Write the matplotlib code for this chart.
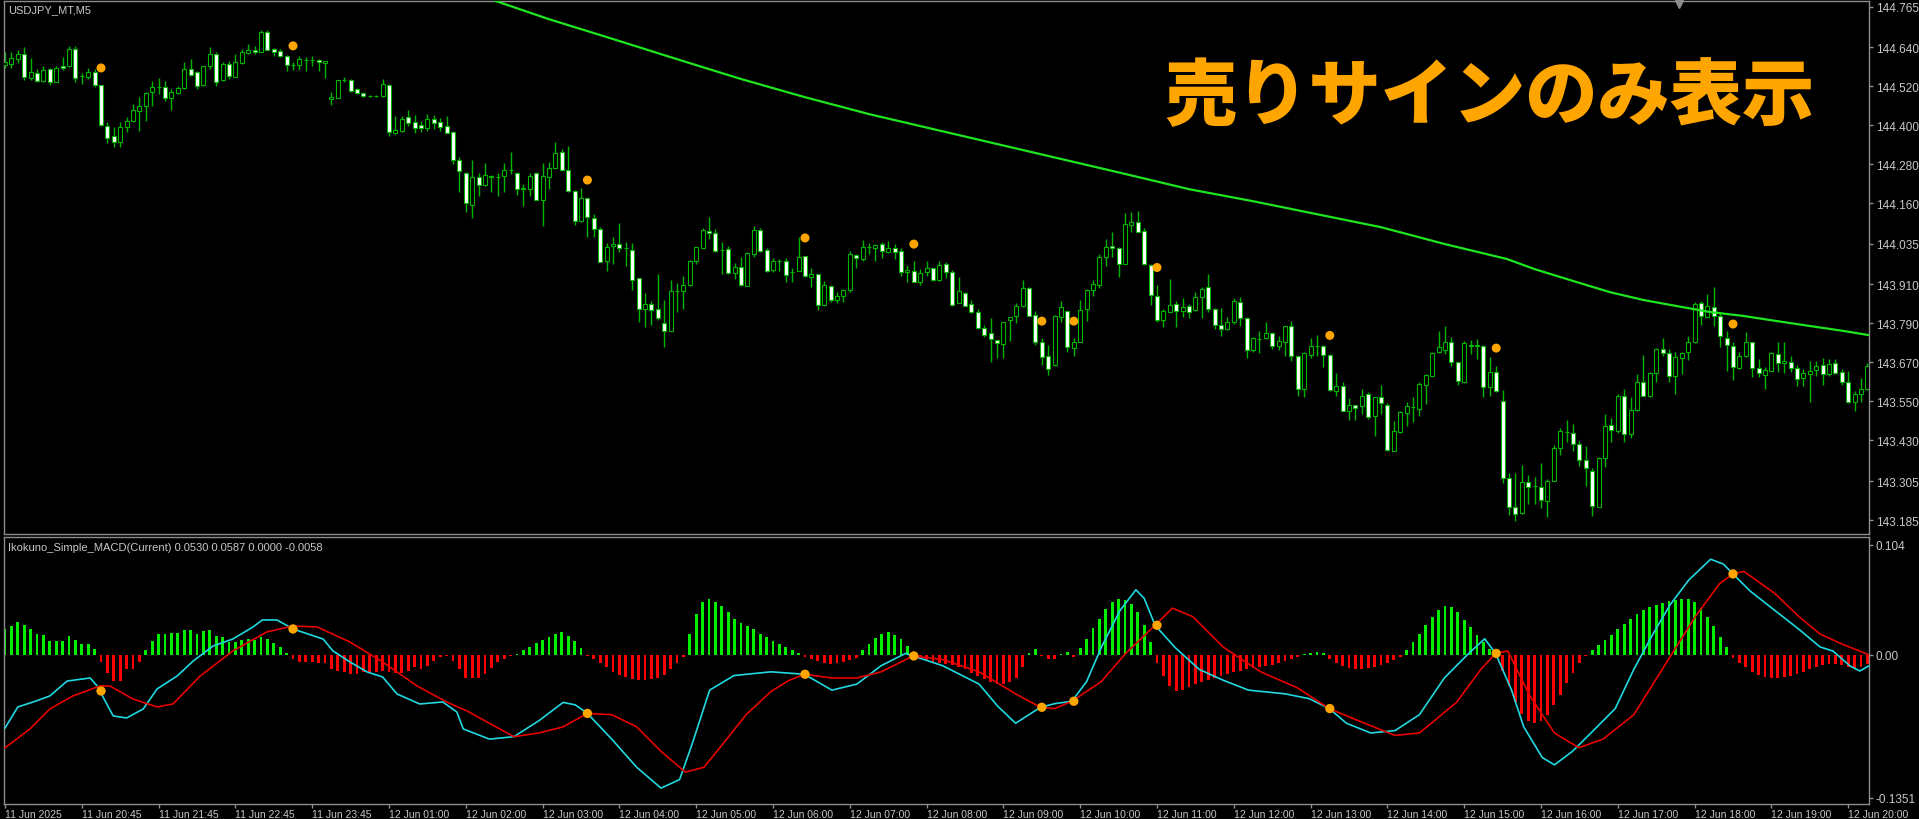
import matplotlib
matplotlib.use('Agg')
import matplotlib.pyplot as plt
import numpy as np

# ---------------- DATA ----------------
opens = [
144.585, 144.588, 144.603, 144.619, 144.545, 144.560, 144.536, 144.573, 144.533, 144.582,
144.582, 144.634, 144.551, 144.548, 144.563, 144.523, 144.397, 144.366, 144.348, 144.394,
144.413, 144.443, 144.459, 144.502, 144.517, 144.517, 144.483, 144.499, 144.514, 144.573,
144.563, 144.523, 144.582, 144.619, 144.539, 144.588, 144.548, 144.591, 144.622, 144.631,
144.625, 144.686, 144.634, 144.628, 144.613, 144.585, 144.585, 144.600, 144.599, 144.600,
144.591, 144.480, 144.483, 144.539, 144.539, 144.511, 144.499, 144.490, 144.489, 144.490,
144.523, 144.376, 144.382, 144.425, 144.410, 144.400, 144.391, 144.419, 144.410, 144.397,
144.379, 144.293, 144.253, 144.154, 144.240, 144.216, 144.243, 144.240, 144.243, 144.262,
144.253, 144.206, 144.203, 144.253, 144.170, 144.240, 144.268, 144.317, 144.262, 144.197,
144.105, 144.176, 144.114, 144.080, 143.982, 144.028, 144.034, 144.022, 144.016, 143.930,
143.834, 143.850, 143.834, 143.791, 143.766, 143.889, 143.889, 143.908, 143.982, 144.022,
144.074, 144.068, 144.016, 144.019, 143.945, 143.963, 143.905, 144.003, 144.077, 144.016,
143.954, 143.982, 143.982, 143.948, 143.951, 143.997, 143.933, 143.942, 143.846, 143.905,
143.862, 143.874, 143.893, 144.000, 143.988, 144.025, 144.022, 144.034, 144.010, 144.022,
144.013, 143.948, 143.951, 143.917, 143.948, 143.960, 143.923, 143.973, 143.948, 143.853,
143.883, 143.850, 143.825, 143.776, 143.760, 143.739, 143.726, 143.800, 143.813, 143.843,
143.899, 143.816, 143.733, 143.690, 143.662, 143.810, 143.828, 143.714, 143.733, 143.834,
143.893, 143.908, 143.994, 144.028, 144.022, 143.973, 144.093, 144.102, 144.074, 143.970,
143.874, 143.800, 143.825, 143.850, 143.828, 143.843, 143.831, 143.871, 143.902, 143.834,
143.785, 143.773, 143.794, 143.856, 143.806, 143.708, 143.742, 143.745, 143.760, 143.720,
143.733, 143.782, 143.690, 143.588, 143.693, 143.720, 143.720, 143.693, 143.582, 143.597,
143.520, 143.539, 143.536, 143.573, 143.505, 143.563, 143.539, 143.397, 143.456, 143.514,
143.533, 143.526, 143.600, 143.628, 143.702, 143.708, 143.733, 143.671, 143.610, 143.723,
143.722, 143.720, 143.594, 143.640, 143.551, 143.314, 143.225, 143.206, 143.302, 143.290,
143.286, 143.243, 143.305, 143.406, 143.456, 143.453, 143.419, 143.370, 143.336, 143.225,
143.376, 143.477, 143.459, 143.566, 143.450, 143.523, 143.610, 143.566, 143.637, 143.711,
143.699, 143.628, 143.683, 143.702, 143.733, 143.853, 143.810, 143.840, 143.813, 143.745,
143.720, 143.653, 143.690, 143.733, 143.653, 143.631, 143.643, 143.696, 143.668, 143.671,
143.653, 143.622, 143.634, 143.646, 143.662, 143.634, 143.668, 143.640, 143.610, 143.548,
143.573, 143.588,
]
highs = [
144.625, 144.625, 144.631, 144.640, 144.606, 144.573, 144.582, 144.576, 144.582, 144.610,
144.643, 144.643, 144.560, 144.576, 144.573, 144.523, 144.410, 144.394, 144.410, 144.425,
144.465, 144.486, 144.502, 144.536, 144.545, 144.536, 144.511, 144.520, 144.594, 144.603,
144.566, 144.582, 144.640, 144.625, 144.594, 144.597, 144.619, 144.634, 144.650, 144.643,
144.693, 144.693, 144.637, 144.634, 144.616, 144.594, 144.613, 144.610, 144.613, 144.603,
144.597, 144.502, 144.539, 144.548, 144.542, 144.514, 144.502, 144.493, 144.492, 144.542,
144.526, 144.428, 144.428, 144.446, 144.431, 144.413, 144.434, 144.431, 144.422, 144.428,
144.382, 144.302, 144.256, 144.293, 144.253, 144.283, 144.246, 144.253, 144.283, 144.317,
144.256, 144.219, 144.253, 144.256, 144.283, 144.286, 144.348, 144.326, 144.336, 144.200,
144.206, 144.176, 144.126, 144.086, 144.037, 144.056, 144.099, 144.040, 144.037, 143.930,
143.883, 143.859, 143.942, 143.862, 143.923, 143.914, 143.936, 143.985, 144.025, 144.083,
144.117, 144.080, 144.040, 144.028, 143.976, 143.994, 144.010, 144.090, 144.083, 144.022,
143.991, 143.988, 143.991, 143.960, 144.056, 143.997, 143.960, 143.942, 143.920, 143.908,
143.886, 143.896, 144.013, 144.003, 144.046, 144.037, 144.034, 144.040, 144.043, 144.034,
144.022, 143.970, 143.982, 143.957, 143.982, 143.960, 143.982, 143.979, 143.954, 143.933,
143.886, 143.862, 143.834, 143.785, 143.806, 143.739, 143.794, 143.810, 143.853, 143.923,
143.902, 143.828, 143.745, 143.723, 143.816, 143.859, 143.828, 143.745, 143.862, 143.896,
143.923, 144.003, 144.050, 144.071, 144.025, 144.130, 144.133, 144.136, 144.083, 143.973,
143.908, 143.834, 143.926, 143.859, 143.868, 143.850, 143.886, 143.902, 143.942, 143.837,
143.837, 143.810, 143.868, 143.871, 143.810, 143.748, 143.766, 143.794, 143.763, 143.751,
143.782, 143.797, 143.693, 143.702, 143.745, 143.754, 143.723, 143.696, 143.637, 143.610,
143.560, 143.539, 143.588, 143.579, 143.563, 143.600, 143.545, 143.489, 143.520, 143.548,
143.563, 143.610, 143.634, 143.702, 143.766, 143.782, 143.748, 143.671, 143.736, 143.739,
143.742, 143.723, 143.686, 143.659, 143.585, 143.330, 143.330, 143.354, 143.323, 143.317,
143.360, 143.311, 143.416, 143.468, 143.493, 143.480, 143.428, 143.413, 143.345, 143.379,
143.511, 143.499, 143.573, 143.588, 143.563, 143.634, 143.693, 143.640, 143.714, 143.745,
143.711, 143.702, 143.702, 143.751, 143.856, 143.859, 143.880, 143.902, 143.825, 143.766,
143.733, 143.702, 143.763, 143.733, 143.680, 143.656, 143.702, 143.733, 143.733, 143.690,
143.662, 143.650, 143.674, 143.674, 143.683, 143.680, 143.680, 143.650, 143.643, 143.582,
143.622, 143.668,
]
lows = [
144.576, 144.576, 144.591, 144.539, 144.539, 144.533, 144.533, 144.523, 144.533, 144.570,
144.579, 144.533, 144.526, 144.542, 144.517, 144.397, 144.345, 144.333, 144.333, 144.379,
144.410, 144.382, 144.413, 144.459, 144.496, 144.474, 144.446, 144.496, 144.511, 144.551,
144.511, 144.520, 144.573, 144.520, 144.536, 144.542, 144.548, 144.588, 144.619, 144.619,
144.625, 144.631, 144.613, 144.610, 144.566, 144.570, 144.570, 144.566, 144.582, 144.566,
144.545, 144.462, 144.483, 144.533, 144.502, 144.496, 144.486, 144.487, 144.487, 144.486,
144.366, 144.373, 144.379, 144.397, 144.376, 144.379, 144.382, 144.388, 144.382, 144.376,
144.280, 144.194, 144.133, 144.114, 144.182, 144.213, 144.194, 144.182, 144.194, 144.250,
144.185, 144.151, 144.182, 144.170, 144.090, 144.203, 144.268, 144.259, 144.194, 144.093,
144.102, 144.056, 144.056, 143.979, 143.951, 143.973, 144.010, 143.966, 143.893, 143.794,
143.779, 143.785, 143.800, 143.717, 143.766, 143.825, 143.834, 143.905, 143.973, 144.022,
144.050, 144.010, 143.942, 143.942, 143.926, 143.905, 143.905, 143.994, 144.010, 143.948,
143.948, 143.951, 143.917, 143.917, 143.951, 143.933, 143.902, 143.831, 143.843, 143.856,
143.853, 143.856, 143.886, 143.960, 143.982, 144.003, 143.982, 143.991, 144.006, 143.988,
143.936, 143.917, 143.917, 143.908, 143.936, 143.920, 143.920, 143.930, 143.843, 143.853,
143.843, 143.822, 143.773, 143.748, 143.671, 143.683, 143.683, 143.736, 143.791, 143.840,
143.813, 143.723, 143.662, 143.631, 143.659, 143.794, 143.702, 143.690, 143.733, 143.797,
143.874, 143.899, 143.966, 143.994, 143.933, 143.973, 144.071, 144.071, 143.970, 143.846,
143.794, 143.779, 143.825, 143.779, 143.810, 143.806, 143.828, 143.806, 143.825, 143.773,
143.751, 143.770, 143.788, 143.782, 143.683, 143.702, 143.699, 143.742, 143.711, 143.708,
143.690, 143.674, 143.566, 143.563, 143.683, 143.690, 143.656, 143.582, 143.566, 143.520,
143.493, 143.493, 143.511, 143.496, 143.443, 143.511, 143.397, 143.397, 143.453, 143.474,
143.486, 143.505, 143.542, 143.628, 143.699, 143.696, 143.659, 143.600, 143.606, 143.696,
143.680, 143.563, 143.566, 143.579, 143.299, 143.200, 143.182, 143.203, 143.234, 143.234,
143.222, 143.194, 143.305, 143.385, 143.425, 143.397, 143.351, 143.289, 143.197, 143.225,
143.348, 143.425, 143.453, 143.425, 143.437, 143.520, 143.566, 143.563, 143.610, 143.690,
143.610, 143.573, 143.634, 143.677, 143.730, 143.785, 143.806, 143.782, 143.717, 143.643,
143.616, 143.650, 143.686, 143.625, 143.625, 143.588, 143.643, 143.640, 143.637, 143.640,
143.597, 143.597, 143.548, 143.628, 143.600, 143.628, 143.634, 143.600, 143.545, 143.520,
143.548, 143.585,
]
closes = [
144.594, 144.606, 144.619, 144.548, 144.563, 144.536, 144.570, 144.533, 144.576, 144.576,
144.634, 144.545, 144.550, 144.563, 144.523, 144.400, 144.360, 144.348, 144.394, 144.413,
144.446, 144.459, 144.499, 144.517, 144.518, 144.483, 144.502, 144.514, 144.573, 144.554,
144.520, 144.582, 144.619, 144.533, 144.588, 144.551, 144.594, 144.625, 144.631, 144.625,
144.686, 144.631, 144.625, 144.613, 144.585, 144.584, 144.603, 144.599, 144.600, 144.594,
144.597, 144.486, 144.539, 144.538, 144.505, 144.499, 144.490, 144.489, 144.490, 144.526,
144.379, 144.385, 144.419, 144.406, 144.391, 144.391, 144.419, 144.406, 144.394, 144.376,
144.293, 144.259, 144.160, 144.240, 144.216, 144.246, 144.242, 144.239, 144.262, 144.261,
144.203, 144.205, 144.243, 144.170, 144.243, 144.268, 144.314, 144.262, 144.197, 144.105,
144.176, 144.117, 144.080, 143.979, 144.025, 144.034, 144.022, 144.021, 143.923, 143.834,
143.850, 143.831, 143.806, 143.766, 143.889, 143.890, 143.908, 143.982, 144.025, 144.077,
144.068, 144.013, 144.015, 143.945, 143.963, 143.908, 144.006, 144.077, 144.013, 143.951,
143.982, 143.981, 143.939, 143.947, 143.994, 143.936, 143.942, 143.846, 143.908, 143.862,
143.874, 143.893, 144.003, 143.991, 144.025, 144.024, 144.031, 144.013, 144.022, 144.010,
143.948, 143.954, 143.917, 143.945, 143.960, 143.923, 143.970, 143.948, 143.846, 143.889,
143.843, 143.825, 143.776, 143.754, 143.742, 143.730, 143.794, 143.810, 143.843, 143.899,
143.813, 143.733, 143.686, 143.650, 143.813, 143.840, 143.717, 143.733, 143.831, 143.893,
143.911, 143.994, 144.025, 144.022, 143.973, 144.096, 144.102, 144.071, 143.973, 143.877,
143.800, 143.828, 143.846, 143.828, 143.840, 143.825, 143.871, 143.896, 143.834, 143.785,
143.773, 143.794, 143.859, 143.806, 143.708, 143.745, 143.741, 143.760, 143.720, 143.736,
143.782, 143.690, 143.588, 143.699, 143.720, 143.719, 143.693, 143.585, 143.597, 143.520,
143.539, 143.530, 143.566, 143.502, 143.563, 143.545, 143.400, 143.459, 143.517, 143.536,
143.532, 143.603, 143.631, 143.699, 143.717, 143.733, 143.671, 143.613, 143.730, 143.722,
143.723, 143.594, 143.640, 143.582, 143.314, 143.225, 143.203, 143.302, 143.286, 143.289,
143.247, 143.305, 143.406, 143.459, 143.455, 143.419, 143.370, 143.345, 143.228, 143.376,
143.474, 143.462, 143.566, 143.450, 143.523, 143.610, 143.566, 143.637, 143.711, 143.699,
143.628, 143.686, 143.699, 143.733, 143.850, 143.813, 143.843, 143.813, 143.751, 143.723,
143.656, 143.690, 143.733, 143.653, 143.637, 143.646, 143.699, 143.668, 143.674, 143.653,
143.619, 143.637, 143.643, 143.659, 143.634, 143.665, 143.637, 143.610, 143.548, 143.573,
143.588, 143.659,
]

# moving average (green line): bar index / price
ma_bars = [74, 85, 95, 105, 115, 125, 135, 145, 155, 165, 175, 185, 195, 205, 215, 225,
           234.7, 239, 245.6, 250.8, 256, 261.3, 266.4, 271.6, 276.9, 282, 287.2, 291.2]
ma_vals = [144.80, 144.726, 144.665, 144.603, 144.542, 144.486, 144.434, 144.388, 144.342,
           144.296, 144.250, 144.203, 144.166, 144.126, 144.086, 144.034,
           143.988, 143.957, 143.917, 143.886, 143.862, 143.843, 143.825, 143.813,
           143.797, 143.782, 143.767, 143.754]

# sell signals
sell_bars = [15, 45, 91, 125, 142, 162, 167, 180, 207, 233, 270]
sell_price = [144.576, 144.644, 144.231, 144.053, 144.034, 143.797, 143.797, 143.962,
              143.753, 143.714, 143.788]
sell_macd = [-0.0343, 0.0243, -0.0555, -0.0185, -0.0012, -0.0497, -0.0440, 0.0278,
             -0.0509, 0.0012, 0.0763]

# MACD main line (cyan)
macd_bars = [0, 2, 4.4, 7, 9.7, 13.3, 14.4, 16.9, 19, 21.6, 23.75, 26.9, 29.4, 32.5, 35.6,
             38.75, 40.2, 42.5, 45, 49.7, 51.25, 53.9, 56.6, 59, 61.25, 64.8, 68.4, 70.6,
             71.6,
             75.7, 79.5, 83.4, 87.2, 89.1, 91, 94.8, 98.7, 102.5, 105.4,
             107.3, 110.1, 113.9, 119.7, 124.9, 129.2, 133.1, 136.9, 140.7, 141.9,
             146.5, 150.3, 152.2, 155.1, 157.9, 161.8, 164, 166.7, 169, 171.3,
             174.2, 176.7, 178, 179.7, 182.8, 186.6, 190.4, 194.3, 200, 203.8,
             206.9, 209.6, 213.4, 217.2, 221, 224.9, 228.7, 231.2, 232.9, 235.4,
             237.3, 240.2, 242.1, 244.9, 247.8, 251.6, 254.5, 257.4, 260.2, 263.1,
             266.5, 268.5, 270, 272.7, 276.5, 280.3, 283.6, 285.6, 288.3, 289.8, 291.2]
macd_vals = [-0.0693, -0.0494, -0.0447, -0.0390, -0.0249, -0.0220, -0.0296, -0.0579,
             -0.0598, -0.0513, -0.0324, -0.0201, -0.0060, 0.0082, 0.0148, 0.0262, 0.0328,
             0.0328, 0.0243, 0.0148, 0.0035, -0.0069, -0.0164, -0.0211, -0.0371, -0.0466,
             -0.0447, -0.0542, -0.0702,
             -0.0798, -0.0775, -0.0625, -0.0451, -0.0474, -0.0555, -0.0798, -0.1064, -0.1261, -0.1180,
             -0.0856, -0.0335, -0.0197, -0.0162, -0.0185, -0.0335, -0.0278, -0.0104, 0.0012, -0.0012,
             -0.0104, -0.0220, -0.0278, -0.0486, -0.0648, -0.0497, -0.0463, -0.0440, -0.0254, 0.0069,
             0.0416, 0.0613, 0.0532, 0.0278, 0.0069, -0.0139, -0.0243, -0.0335, -0.0370, -0.0416,
             -0.0509, -0.0648, -0.0740, -0.0717, -0.0567, -0.0220, 0.0012, 0.0150, 0.0012, -0.0335,
             -0.0682, -0.0972, -0.1041, -0.0914, -0.0740, -0.0509, -0.0139, 0.0185, 0.0474, 0.0706,
             0.0902, 0.0856, 0.0763, 0.0600, 0.0420, 0.0240, 0.0073, 0.0035, -0.0107, -0.0154, -0.0107]

# MACD signal line (red)
sig_bars = [0, 3.9, 7, 10.6, 14.8, 16.4, 20, 23.75, 26.25, 30.5, 35.6, 40.9, 45, 48.75,
            53.9, 59, 64.4, 69, 72.2, 77.3,
            79.5, 83.4, 87.2, 91, 94.8, 98.7, 102.5, 106.3, 109.2, 112,
            115.8, 119.7, 122.5, 124.9, 129.2, 133.1, 136.9, 141.9, 146.5, 152.2,
            157.9, 161.8, 164, 166.7, 171.3, 175.1, 179.7, 182.4, 185.6, 190.4,
            196.2, 201.9, 206.9, 211.5, 217.2, 221, 226.8, 230.6, 232.9, 234.8,
            238.3, 242.1, 245.9, 249.7, 254.5, 259.3, 264.1, 267.9, 270, 271.7,
            276.5, 280.3, 283.6, 287, 291.2]
sig_vals = [-0.0880, -0.0702, -0.0513, -0.0390, -0.0296, -0.0296, -0.0419, -0.0494,
            -0.0466, -0.0201, 0.0035, 0.0215, 0.0271, 0.0262, 0.0120, -0.0069, -0.0296,
            -0.0447, -0.0532, -0.0702,
            -0.0775, -0.0740, -0.0682, -0.0555, -0.0567, -0.0682, -0.0914, -0.1110, -0.1064, -0.0856,
            -0.0567, -0.0347, -0.0243, -0.0185, -0.0220, -0.0220, -0.0162, -0.0012, -0.0046, -0.0162,
            -0.0370, -0.0497, -0.0509, -0.0440, -0.0254, 0.0012, 0.0278, 0.0440, 0.0359, 0.0069,
            -0.0162, -0.0312, -0.0509, -0.0625, -0.0763, -0.0740, -0.0451, -0.0139, 0.0012, 0.0035,
            -0.0393, -0.0740, -0.0879, -0.0798, -0.0567, -0.0104, 0.0359, 0.0671, 0.0763, 0.0787,
            0.0580, 0.0360, 0.0195, 0.0101, 0.0000]

# MACD histogram (one value per bar, from bar 0)
hist = [0.0243, 0.0271, 0.0309, 0.0281, 0.0243, 0.0196, 0.0186, 0.0129, 0.0129, 0.0129,
        0.0177, 0.0139, 0.0101, 0.0101, 0.0054, -0.0069, -0.0173, -0.0249, -0.0249, -0.0135,
        -0.0135, -0.0069, 0.0044, 0.0129, 0.0196, 0.0196, 0.0205, 0.0205, 0.0233, 0.0233,
        0.0196, 0.0224, 0.0233, 0.0177, 0.0167, 0.0120, 0.0120, 0.0139, 0.0148, 0.0139,
        0.0167, 0.0148, 0.0111, 0.0073, 0.0016, -0.0041, -0.0069, -0.0069, -0.0069, -0.0078,
        -0.0078, -0.0135, -0.0154, -0.0164, -0.0182, -0.0182, -0.0164, -0.0164, -0.0164, -0.0154,
        -0.0164, -0.0173, -0.0173, -0.0154, -0.0116, -0.0135, -0.0107, -0.0060, -0.0022, -0.0012,
        -0.0060, -0.0135, -0.0220, -0.0220, -0.0220, -0.0182, -0.0126, -0.0069,
        -0.004, -0.001, 0.001, 0.004, 0.007, 0.011, 0.014, 0.017, 0.020, 0.021, 0.018, 0.013,
        0.006, -0.001,
        -0.004, -0.008, -0.012, -0.016, -0.019, -0.021, -0.023, -0.024, -0.024, -0.023,
        -0.022, -0.019, -0.014, -0.008, -0.002,
        0.020, 0.038, 0.050, 0.053, 0.050, 0.046, 0.040, 0.034, 0.030, 0.027, 0.024, 0.020,
        0.017, 0.013, 0.010, 0.007, 0.004, 0.002,
        -0.002, -0.004, -0.006, -0.008, -0.009, -0.008, -0.007, -0.005, -0.003,
        0.004, 0.010, 0.016, 0.020, 0.021, 0.019, 0.015, 0.008,
        -0.002, -0.004, -0.006, -0.007, -0.008, -0.009, -0.010, -0.012, -0.014, -0.017,
        -0.020, -0.023, -0.026, -0.028, -0.028, -0.026, -0.022, -0.012,
        0.002, 0.005, -0.001, -0.004, -0.004, 0.001, 0.003, -0.002,
        0.006, 0.015, 0.025, 0.034, 0.043, 0.050, 0.053, 0.052, 0.048, 0.040, 0.028, 0.012,
        -0.008, -0.020, -0.030, -0.034, -0.033, -0.031, -0.028, -0.026, -0.024, -0.022,
        -0.020, -0.018, -0.016, -0.015, -0.014, -0.013, -0.012, -0.011, -0.010, -0.008,
        -0.006, -0.004, -0.002,
        0.001, 0.002, 0.003, 0.002,
        -0.004, -0.008, -0.011, -0.013, -0.014, -0.014, -0.013, -0.012, -0.010, -0.008,
        -0.005, -0.002,
        0.004, 0.012, 0.020, 0.028, 0.036, 0.042, 0.046, 0.045, 0.040, 0.033, 0.026, 0.019,
        0.012, 0.005,
        -0.003, -0.015, -0.030, -0.045, -0.056, -0.063, -0.065, -0.063, -0.057, -0.048,
        -0.038, -0.027, -0.017, -0.008, -0.001,
        0.004, 0.009, 0.014, 0.019, 0.024, 0.029, 0.034, 0.038, 0.042, 0.045, 0.047, 0.049,
        0.051, 0.052, 0.053, 0.053, 0.050, 0.044, 0.036, 0.027, 0.017, 0.007,
        -0.003, -0.008, -0.012, -0.016, -0.019, -0.021, -0.022, -0.022, -0.021, -0.020,
        -0.018, -0.016, -0.014, -0.012, -0.010, -0.009, -0.009, -0.010, -0.012, -0.013,
        -0.012, -0.009]

price_ticks = [144.765, 144.640, 144.520, 144.400, 144.280, 144.160, 144.035, 143.910,
               143.790, 143.670, 143.550, 143.430, 143.305, 143.185]
macd_ticks = [0.104, 0.0, -0.1351]
macd_tick_labels = ['0.104', '0.00', '-0.1351']
time_labels = ['11 Jun 2025', '11 Jun 20:45', '11 Jun 21:45', '11 Jun 22:45', '11 Jun 23:45',
               '12 Jun 01:00', '12 Jun 02:00', '12 Jun 03:00', '12 Jun 04:00', '12 Jun 05:00',
               '12 Jun 06:00', '12 Jun 07:00', '12 Jun 08:00', '12 Jun 09:00', '12 Jun 10:00',
               '12 Jun 11:00', '12 Jun 12:00', '12 Jun 13:00', '12 Jun 14:00', '12 Jun 15:00',
               '12 Jun 16:00', '12 Jun 17:00', '12 Jun 18:00', '12 Jun 19:00', '12 Jun 20:00']
time_label_bars = list(range(0, 289, 12))

# ---------------- STYLE ----------------
W, H = 1919, 820
BG = 'black'
GRAY = '#8c8c8c'
TXT = '#c8c8c8'
CANDLE = '#00b400'
MA_COL = '#1ee61e'
ORANGE = '#ffa500'
CYAN = '#20d8e0'
RED = '#e60000'
HGREEN = '#00ee00'
HRED = '#ff0000'
plt.rcParams['font.family'] = ['Liberation Sans', 'DejaVu Sans']

fig = plt.figure(figsize=(W / 100, H / 100), dpi=100, facecolor=BG)


def rect(x0, y0, x1, y1):
    return [x0 / W, 1 - y1 / H, (x1 - x0) / W, (y1 - y0) / H]


ax = fig.add_axes(rect(4, 2, 1869, 535))
ax2 = fig.add_axes(rect(4, 538, 1869, 805), sharex=ax)
for a in (ax, ax2):
    a.set_facecolor(BG)
    for s in a.spines.values():
        s.set_color(GRAY)
        s.set_linewidth(1)

o = np.array(opens); h = np.array(highs); l = np.array(lows); c = np.array(closes)
x = np.arange(len(o))

ax.vlines(x, l, h, color=CANDLE, lw=1.0, zorder=2)
bottom = np.minimum(o, c)
height = np.maximum(np.abs(c - o), 0.0015)
faces = np.where(c < o, 'white', 'black')
ax.bar(x, height, bottom=bottom, width=0.62, color=faces, edgecolor=CANDLE,
       linewidth=0.8, zorder=3)

ax.plot(ma_bars, ma_vals, color=MA_COL, lw=1.6, zorder=4)
ax.scatter(sell_bars, sell_price, s=42, color=ORANGE, edgecolors='none', zorder=6)

ax.set_xlim(-0.16, 291.25)
ax.set_ylim(143.142, 144.782)
ax.yaxis.tick_right()
ax.set_yticks(price_ticks)
ax.set_yticklabels([f'{v:.3f}' for v in price_ticks])
ax.tick_params(axis='y', colors=GRAY, labelcolor=TXT, labelsize=8.5, length=3, width=1,
               pad=2)
ax.tick_params(axis='x', bottom=False, labelbottom=False)

# MACD panel
hx = np.arange(len(hist))
hv = np.array(hist)
ax2.bar(hx, hv, width=0.45, color=np.where(hv >= 0, HGREEN, HRED), linewidth=0, zorder=2)
ax2.plot(macd_bars, macd_vals, color=CYAN, lw=1.2, zorder=3)
ax2.plot(sig_bars, sig_vals, color=RED, lw=1.2, zorder=3)
ax2.scatter(sell_bars, sell_macd, s=45, color=ORANGE, edgecolors='none', zorder=5)
ax2.set_ylim(-0.1411, 0.1112)
ax2.yaxis.tick_right()
ax2.set_yticks(macd_ticks)
ax2.set_yticklabels(macd_tick_labels)
ax2.tick_params(axis='y', colors=GRAY, labelcolor=TXT, labelsize=8.5, length=3, width=1,
                pad=2)
ax2.set_xticks(time_label_bars)
ax2.set_xticklabels(time_labels)
for t in ax2.get_xticklabels():
    t.set_horizontalalignment('left')
ax2.tick_params(axis='x', colors=GRAY, labelcolor=TXT, labelsize=7.5, length=3, width=1,
                pad=0.5)

fig.text(8 / W, 1 - 10 / H, 'USDJPY_MT,M5', color=TXT, fontsize=8, va='center', ha='left')
fig.text(8 / W, 1 - 548 / H, 'Ikokuno_Simple_MACD(Current) 0.0530 0.0587 0.0000 -0.0058',
         color=TXT, fontsize=8, va='center', ha='left')
fig.text(1490 / W, 1 - 98 / H, '売りサインのみ表示', color=ORANGE, fontsize=52,
         fontweight=900, family=['Noto Sans CJK JP', 'DejaVu Sans'],
         ha='center', va='center')
fig.lines.append(plt.Line2D([1679 / W], [1 - 5 / H], marker='v', color=GRAY,
                            markersize=6, linestyle='none', transform=fig.transFigure))

fig.savefig('out.png', dpi=100, facecolor=BG)
